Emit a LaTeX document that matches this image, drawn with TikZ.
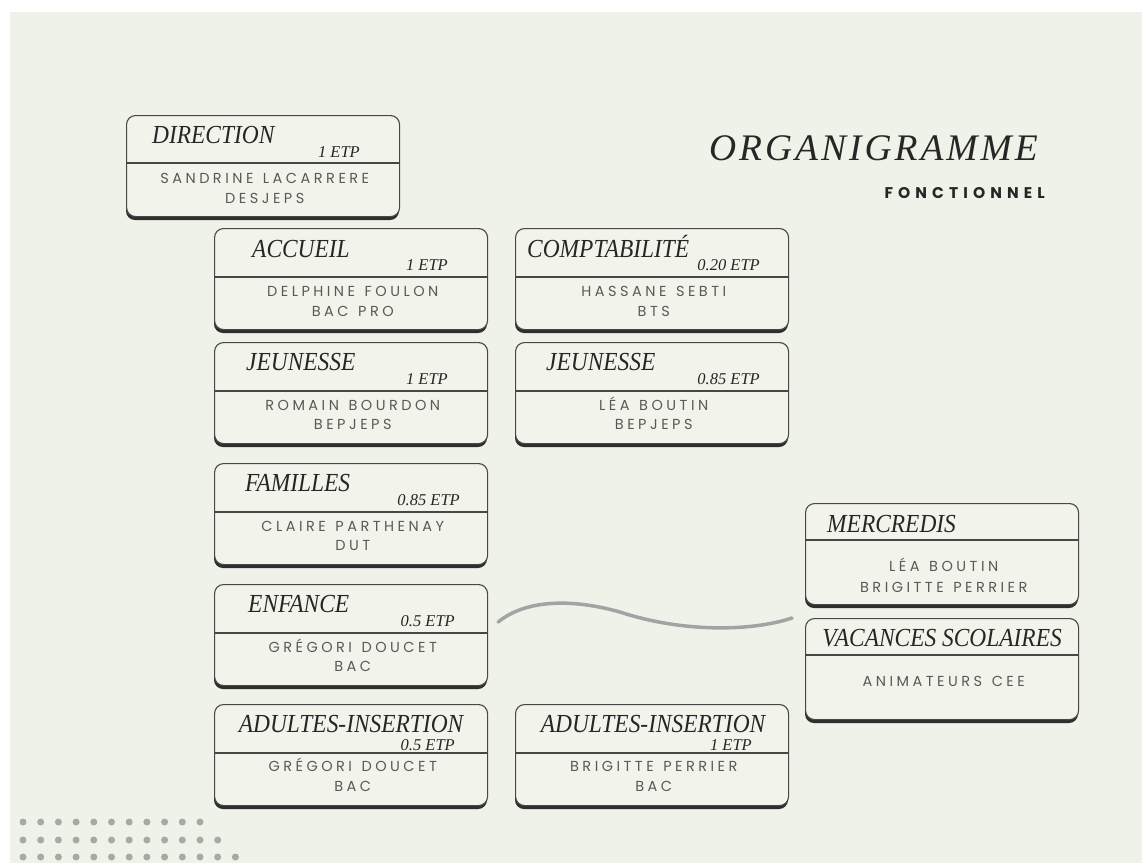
\documentclass[tikz,border=0pt]{standalone}
\usepackage{fontspec}
\usepackage{graphicx}
\setmainfont{Liberation Serif}
\newfontfamily\ttlfont{Liberation Serif}
\newfontfamily\bigfont[LetterSpace=8]{Liberation Serif}
\newfontfamily\namefont[LetterSpace=24,WordSpace=1.3]{Poppins}
\newfontfamily\hdfont[LetterSpace=33]{Poppins}
\usetikzlibrary{calc}
\definecolor{bgc}{HTML}{EFF2E9}
\definecolor{boxfill}{HTML}{F2F4EC}
\definecolor{boxline}{HTML}{474747}
\definecolor{shadowc}{HTML}{2E2E2E}
\definecolor{titlec}{HTML}{262626}
\definecolor{namec}{HTML}{595959}
\definecolor{dotc}{HTML}{A8A8A8}
\definecolor{wavec}{HTML}{A3A3A3}
\newcommand\cnd[1]{\scalebox{0.9}[1]{#1}}
\tikzset{
  orgbox/.style={draw=boxline, line width=1.1pt, fill=boxfill, rounded corners=9pt,
    minimum width=273pt, minimum height=101pt, anchor=north west, inner sep=0pt},
  shadowbox/.style={fill=shadowc, rounded corners=9pt},
  divl/.style={draw=boxline, line width=1.1pt},
  ttl/.style={font=\ttlfont\itshape\fontsize{26}{28}\selectfont, text=titlec, anchor=base west, inner sep=0pt},
  ttlc/.style={ttl, anchor=base},
  etp/.style={font=\ttlfont\itshape\fontsize{16.5}{18}\selectfont, text=titlec, anchor=base east, inner sep=0pt},
  nm/.style={font=\namefont\fontsize{14.5}{16}\selectfont, text=namec, anchor=base, inner sep=0pt},
  dotfill/.style={fill=dotc, draw=none},
  wave/.style={draw=wavec, line width=3.5pt, line cap=round}
}
% #1 name, #2 x, #3 y, #4 divider offset
\newcommand\orgunit[4]{%
  \fill[shadowbox] (#2,#3+4) rectangle (#2+273,#3+105);
  \node[orgbox] (#1) at (#2,#3) {};
  \draw[divl] ($(#1.north west)+(0,#4)$) -- ($(#1.north east)+(0,#4)$);
}
\begin{document}
\begin{tikzpicture}[x=1pt,y=-1pt]
\fill[white] (0,0) rectangle (1142,863);
\fill[bgc] (10,12) rectangle (1142,863);
\useasboundingbox (0,0) rectangle (1142,863);

% title
\node[font=\bigfont\itshape\fontsize{37.5}{42}\selectfont, text=titlec, anchor=base east, inner sep=0pt] (head) at (1038,160) {ORGANIGRAMME};
\node[font=\hdfont\bfseries\fontsize{15.5}{17}\selectfont, text=titlec, anchor=base east, inner sep=0pt] (sub) at (1045,198) {FONCTIONNEL};

% DIRECTION
\orgunit{dir}{126}{115}{48}
\node[ttl] (dirT) at ($(dir.north west)+(26,28)$) {\cnd{DIRECTION}};
\node[etp] (dirE) at ($(dir.north west)+(234,42)$) {1 ETP};
\node[nm] (dirN1) at ($(dir.north)+(1.7,68)$) {SANDRINE LACARRERE};
\node[nm] (dirN2) at ($(dir.north)+(1.7,88)$) {DESJEPS};

% ACCUEIL
\orgunit{acc}{214}{228}{49}
\node[ttl] (accT) at ($(acc.north west)+(38,29)$) {\cnd{ACCUEIL}};
\node[etp] (accE) at ($(acc.north west)+(234,42)$) {1 ETP};
\node[nm] (accN1) at ($(acc.north)+(1.7,68)$) {DELPHINE FOULON};
\node[nm] (accN2) at ($(acc.north)+(1.7,88)$) {BAC PRO};

% COMPTABILITE
\orgunit{cpt}{515}{228}{49}
\node[ttl] (cptT) at ($(cpt.north west)+(12,29)$) {\cnd{COMPTABILITÉ}};
\node[etp] (cptE) at ($(cpt.north west)+(245,42)$) {0.20 ETP};
\node[nm] (cptN1) at ($(cpt.north)+(1.7,68)$) {HASSANE SEBTI};
\node[nm] (cptN2) at ($(cpt.north)+(1.7,88)$) {BTS};

% JEUNESSE left
\orgunit{jeu}{214}{342}{49}
\node[ttl] (jeuT) at ($(jeu.north west)+(32,28)$) {\cnd{JEUNESSE}};
\node[etp] (jeuE) at ($(jeu.north west)+(234,42)$) {1 ETP};
\node[nm] (jeuN1) at ($(jeu.north)+(1.7,68)$) {ROMAIN BOURDON};
\node[nm] (jeuN2) at ($(jeu.north)+(1.7,87)$) {BEPJEPS};

% JEUNESSE right
\orgunit{jeuR}{515}{342}{49}
\node[ttl] (jeuRT) at ($(jeuR.north west)+(31,28)$) {\cnd{JEUNESSE}};
\node[etp] (jeuRE) at ($(jeuR.north west)+(245,42)$) {0.85 ETP};
\node[nm] (jeuRN1) at ($(jeuR.north)+(1.7,68)$) {LÉA BOUTIN};
\node[nm] (jeuRN2) at ($(jeuR.north)+(1.7,87)$) {BEPJEPS};

% FAMILLES
\orgunit{fam}{214}{463}{49}
\node[ttl] (famT) at ($(fam.north west)+(31,28)$) {\cnd{FAMILLES}};
\node[etp] (famE) at ($(fam.north west)+(246,42)$) {0.85 ETP};
\node[nm] (famN1) at ($(fam.north)+(1.7,68)$) {CLAIRE PARTHENAY};
\node[nm] (famN2) at ($(fam.north)+(1.7,87)$) {DUT};

% ENFANCE
\orgunit{enf}{214}{584}{49}
\node[ttl] (enfT) at ($(enf.north west)+(34,28)$) {\cnd{ENFANCE}};
\node[etp] (enfE) at ($(enf.north west)+(241,42)$) {0.5 ETP};
\node[nm] (enfN1) at ($(enf.north)+(1.7,68)$) {GRÉGORI DOUCET};
\node[nm] (enfN2) at ($(enf.north)+(1.7,87)$) {BAC};

% ADULTES left
\orgunit{adu}{214}{704}{49}
\node[ttlc] (aduT) at ($(adu.north)+(0,28)$) {\cnd{ADULTES-INSERTION}};
\node[etp] (aduE) at ($(adu.north west)+(241,46)$) {0.5 ETP};
\node[nm] (aduN1) at ($(adu.north)+(1.7,67)$) {GRÉGORI DOUCET};
\node[nm] (aduN2) at ($(adu.north)+(1.7,87)$) {BAC};

% ADULTES right
\orgunit{aduR}{515}{704}{49}
\node[ttlc] (aduRT) at ($(aduR.north)+(1,28)$) {\cnd{ADULTES-INSERTION}};
\node[etp] (aduRE) at ($(aduR.north west)+(237,46)$) {1 ETP};
\node[nm] (aduRN1) at ($(aduR.north)+(1.7,67)$) {BRIGITTE PERRIER};
\node[nm] (aduRN2) at ($(aduR.north)+(1.7,87)$) {BAC};

% MERCREDIS
\orgunit{mer}{805}{503}{37}
\node[ttl] (merT) at ($(mer.north west)+(22,29)$) {\cnd{MERCREDIS}};
\node[nm] (merN1) at ($(mer.north)+(1.7,68)$) {LÉA BOUTIN};
\node[nm] (merN2) at ($(mer.north)+(1.7,89)$) {BRIGITTE PERRIER};

% VACANCES SCOLAIRES
\orgunit{vac}{805}{618}{37}
\node[ttlc] (vacT) at ($(vac.north)+(0,28)$) {\cnd{VACANCES SCOLAIRES}};
\node[nm] (vacN1) at ($(vac.north)+(1.7,68)$) {ANIMATEURS CEE};

% wave connector
\coordinate (w1) at ($(enf.east)+(10,-13)$);
\coordinate (w2) at ($(vac.north west)+(-13,0)$);
\draw[wave] (w1) .. controls (525,600) and (570,598) .. (620,612)
  .. controls (680,632) and (750,632) .. (w2);

% dots
\foreach \i in {0,...,10} \fill[dotfill] (23+17.7*\i,822) circle (3.5);
\foreach \i in {0,...,11} \fill[dotfill] (23+17.7*\i,840) circle (3.5);
\foreach \i in {0,...,12} \fill[dotfill] (23+17.7*\i,857) circle (3.5);
\end{tikzpicture}
\end{document}
